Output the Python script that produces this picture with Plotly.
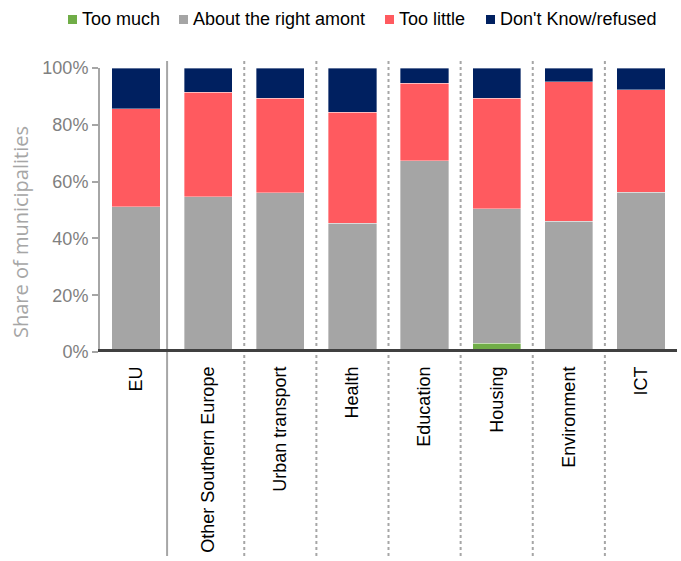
import plotly.graph_objects as go

categories = ["EU", "Other Southern Europe", "Urban transport", "Health",
              "Education", "Housing", "Environment", "ICT"]
series_names = ["Too much", "About the right amont", "Too little", "Don't Know/refused"]
too_much = [0.7, 0, 0, 0, 0, 3.0, 0, 0]
about_right = [50.4, 54.6, 56.0, 45.4, 67.3, 47.4, 46.1, 56.3]
too_little = [34.5, 36.9, 33.4, 39.1, 27.4, 39.0, 49.0, 36.0]
dont_know = [14.4, 8.5, 10.6, 15.5, 5.3, 10.6, 4.9, 7.7]
y_ticks = [0, 20, 40, 60, 80, 100]
y_ticktext = ["0%", "20%", "40%", "60%", "80%", "100%"]
y_title = "Share of municipalities"

colors = ["#70AD47", "#A5A5A5", "#FF5A5F", "#002060"]
values = [too_much, about_right, too_little, dont_know]

W, H = 681, 561
L, R, T, B = 100, 4, 68, 209
pw = W - L - R
ph = H - T - B

def px_x(px):
    return (px - L) / pw

def px_y(py):
    return (H - B - py) / ph

fig = go.Figure()
for name, vals, col in zip(series_names, values, colors):
    fig.add_trace(go.Bar(
        x=categories, y=vals, name=name,
        marker=dict(color=col, line=dict(color="rgba(255,255,255,0.6)", width=0.6)),
        showlegend=False,
    ))

# separators
n = len(categories)
shapes = []
for k in range(n - 1):
    xpos = k + 0.5 if k > 0 else k + 0.43
    shapes.append(dict(
        type="line", xref="x", yref="paper",
        x0=xpos, x1=xpos, y0=px_y(556), y1=px_y(61),
        line=dict(color="#A6A6A6", width=2, dash="solid" if k == 0 else "dot"),
        layer="below",
    ))
# thick baseline
shapes.append(dict(
    type="line", xref="paper", yref="y",
    x0=px_x(98), x1=1, y0=0, y1=0,
    line=dict(color="#404040", width=6), layer="above",
))

# custom legend
legend_sq = [68, 179, 385, 486]
annotations = []
for name, col, sx in zip(series_names, colors, legend_sq):
    shapes.append(dict(
        type="rect", xref="paper", yref="paper",
        x0=px_x(sx), x1=px_x(sx + 9), y0=px_y(24), y1=px_y(15),
        fillcolor=col, line=dict(width=0),
    ))
    annotations.append(dict(
        text=name, xref="paper", yref="paper",
        x=px_x(sx + 12), y=px_y(19.5), xanchor="left", yanchor="middle",
        showarrow=False, font=dict(family="Liberation Sans, Arial", size=18, color="#000000"),
    ))

# y-axis title
annotations.append(dict(
    text=y_title, xref="paper", yref="paper", textangle=-90,
    x=px_x(20), y=px_y(232), xanchor="center", yanchor="middle",
    showarrow=False, font=dict(family="Open Sans", size=20, color="#A6A6A6"),
))

fig.update_layout(
    width=W, height=H,
    margin=dict(l=L, r=R, t=T, b=B, autoexpand=False),
    barmode="stack", bargap=0.33,
    plot_bgcolor="white", paper_bgcolor="white",
    shapes=shapes, annotations=annotations,
    showlegend=False,
    xaxis=dict(
        tickangle=-90, tickfont=dict(family="Liberation Sans, Arial", size=18, color="#000000"),
        showline=False, showgrid=False, ticks="", ticklabelstandoff=10,
    ),
    yaxis=dict(
        range=[0, 100], tickvals=y_ticks, ticktext=y_ticktext,
        tickfont=dict(family="Liberation Sans, Arial", size=18, color="#808080"),
        showline=True, linecolor="#A6A6A6", linewidth=2,
        ticks="outside", ticklen=6, tickcolor="#A6A6A6", tickwidth=2,
        showgrid=False, zeroline=False,
    ),
)

fig.write_html("out.html", config={"displayModeBar": False},
               post_script="document.body.style.margin='0';document.body.style.padding='0';")
